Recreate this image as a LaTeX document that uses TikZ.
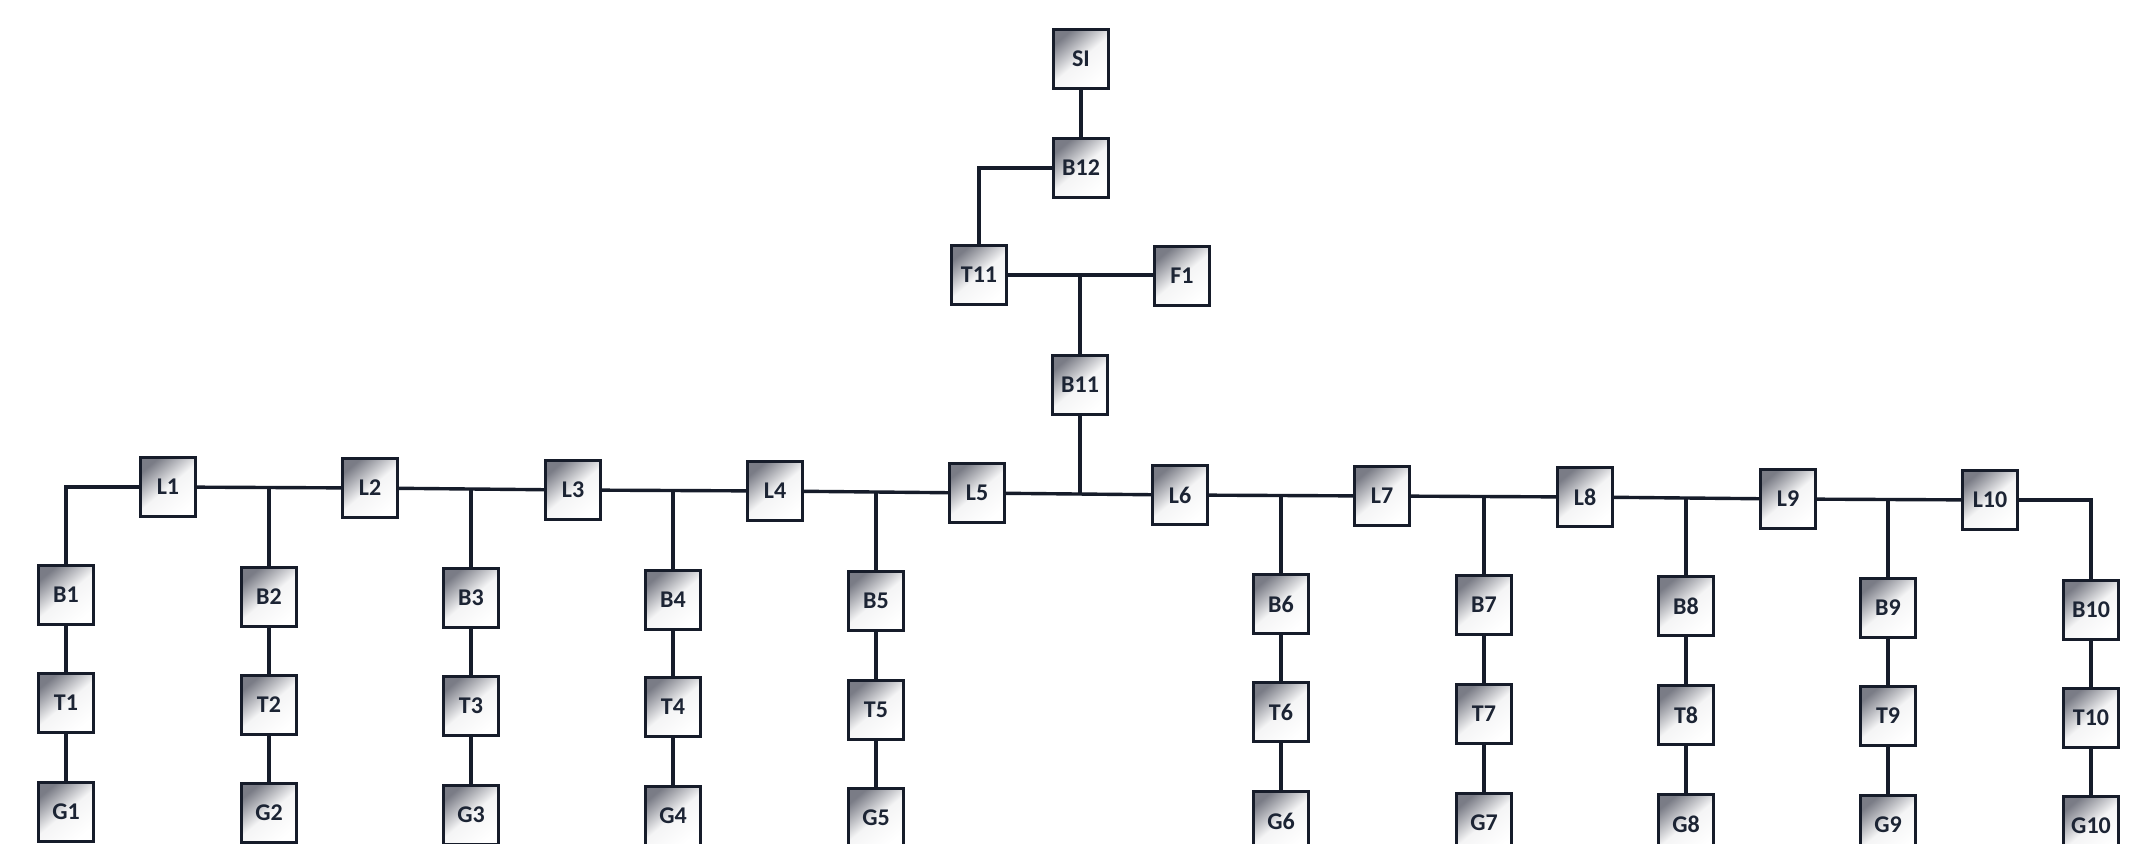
\documentclass[tikz,border=0pt]{standalone}
\usepackage{fontspec}
\setmainfont{Carlito}
\definecolor{boxdark}{RGB}{122,124,134}
\definecolor{textcol}{RGB}{28,36,52}
\definecolor{wirecol}{RGB}{22,28,42}
\begin{document}
\begin{tikzpicture}[x=0.5pt,y=-0.5pt,
  box/.style={draw=wirecol, line width=1.7pt, minimum width=27.5pt, minimum height=29.5pt,
    inner sep=0pt, top color=boxdark, bottom color=white, middle color=white!92!boxdark,
    shading angle=40, text=textcol, font=\bfseries\fontsize{12}{13}\selectfont},
  wire/.style={line width=1.7pt, draw=wirecol}]
\useasboundingbox (0,0) rectangle (2151,843);
\clip (0,0) rectangle (2151,843);
% top part
\node[box] (SI)  at (1081,59)  {SI};
\node[box] (B12) at (1081,168) {B12};
\node[box] (T11) at (979,275)  {T11};
\node[box] (F1)  at (1182,276) {F1};
\node[box] (B11) at (1080,385) {B11};
% line nodes
\node[box] (L1)  at (168,487)  {L1};
\node[box] (L2)  at (370,488)  {L2};
\node[box] (L3)  at (573,490)  {L3};
\node[box] (L4)  at (775,491)  {L4};
\node[box] (L5)  at (977,493)  {L5};
\node[box] (L6)  at (1180,495) {L6};
\node[box] (L7)  at (1382,496) {L7};
\node[box] (L8)  at (1585,497) {L8};
\node[box] (L9)  at (1788,499) {L9};
\node[box] (L10) at (1990,500) {L10};
% columns
\foreach \i/\x/\yb/\yt/\yg in {1/66/595/703/812, 2/269/597/705/813, 3/471/598/706/815,
  4/673/600/707/816, 5/876/601/710/818, 6/1281/604/712/821, 7/1484/605/714/823,
  8/1686/606/715/824, 9/1888/608/716/825, 10/2091/610/718/826}{
  \node[box] (B\i) at (\x,\yb) {B\i};
  \node[box] (T\i) at (\x,\yt) {T\i};
  \node[box] (G\i) at (\x,\yg) {G\i};
  \draw[wire] (B\i) -- (T\i);
  \draw[wire] (T\i) -- (G\i);
}
% top wires
\draw[wire] (SI) -- (B12);
\draw[wire] (B12.west) -| (T11.north);
\draw[wire] (T11.east) -- (F1.west |- T11.east);
\draw[wire] (B11.north) -- (B11.north |- T11.east);
\draw[wire] (B11.south) -- (B11.south |- L5.east);
% main bus
\draw[wire] (L1) -- (L2);
\draw[wire] (L2) -- (L3);
\draw[wire] (L3) -- (L4);
\draw[wire] (L4) -- (L5);
\draw[wire] (L5) -- (L6);
\draw[wire] (L6) -- (L7);
\draw[wire] (L7) -- (L8);
\draw[wire] (L8) -- (L9);
\draw[wire] (L9) -- (L10);
% branches
\draw[wire] (L1.west) -| (B1.north);
\draw[wire] (B2.north) -- (B2.north |- L1.east);
\draw[wire] (B3.north) -- (B3.north |- L2.east);
\draw[wire] (B4.north) -- (B4.north |- L3.east);
\draw[wire] (B5.north) -- (B5.north |- L4.east);
\draw[wire] (B6.north) -- (B6.north |- L6.east);
\draw[wire] (B7.north) -- (B7.north |- L7.east);
\draw[wire] (B8.north) -- (B8.north |- L8.east);
\draw[wire] (B9.north) -- (B9.north |- L9.east);
\draw[wire] (L10.east) -| (B10.north);
\end{tikzpicture}
\end{document}
